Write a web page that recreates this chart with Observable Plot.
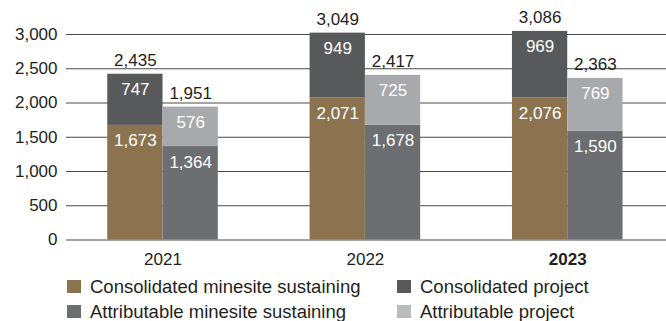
<!DOCTYPE html>
<html><head><meta charset="utf-8">
<script src="https://cdn.jsdelivr.net/npm/d3@7"></script>
<script src="https://cdn.jsdelivr.net/npm/@observablehq/plot@0.6"></script>
<style>
body{margin:0;background:#fff;font-family:"Liberation Sans",Arial,sans-serif;color:#231f20;}
#chart{position:relative;width:666px;height:321px;}
#chart svg{position:absolute;left:0;top:0;}
.item{position:absolute;display:flex;align-items:center;height:25px;font-size:18.5px;white-space:nowrap;}
.sw{width:14px;height:13px;margin-right:9px;flex:none;}
</style></head><body><div id="chart"></div>
<script>
const years = ["2021", "2022", "2023"];
const consolidatedSustaining = [1673, 2071, 2076];
const consolidatedProject = [747, 949, 969];
const consolidatedTotal = [2435, 3049, 3086];
const attributableSustaining = [1364, 1678, 1590];
const attributableProject = [576, 725, 769];
const attributableTotal = [1951, 2417, 2363];
const yTicks = [0, 500, 1000, 1500, 2000, 2500, 3000];
const seriesNames = ["Consolidated minesite sustaining", "Consolidated project", "Attributable minesite sustaining", "Attributable project"];
const colors = ["#8b7350", "#58595b", "#6d6e71", "#a7a9ac"];
const legendColors = ["#8b7350", "#58595b", "#6d6e71", "#b9bbbe"];

const W = 0.2732; // bar width in year units
const segments = [];
const totals = [];
years.forEach((y, i) => {
  const groups = [
    {off: -W, sus: consolidatedSustaining[i], proj: consolidatedProject[i], tot: consolidatedTotal[i], s: 0},
    {off: 0, sus: attributableSustaining[i], proj: attributableProject[i], tot: attributableTotal[i], s: 2}
  ];
  for (const g of groups) {
    const x1 = i + g.off, x2 = x1 + W;
    segments.push({x1, x2, y1: 0, y2: g.sus, v: g.sus, series: seriesNames[g.s]});
    segments.push({x1, x2, y1: g.sus, y2: g.sus + g.proj, v: g.proj, series: seriesNames[g.s + 1]});
    totals.push({x: (x1 + x2) / 2, y: g.sus + g.proj, v: g.tot});
  }
});
const fmt = d3.format(",");

const plot = Plot.plot({
  width: 666, height: 270,
  marginLeft: 66, marginRight: 0, marginTop: 34, marginBottom: 30.5,
  style: {fontFamily: "'Liberation Sans', Arial, sans-serif", fontSize: "17px", color: "#231f20", background: "transparent"},
  x: {type: "linear", domain: [-0.477, 2.488], axis: null},
  y: {domain: [0, 3000], axis: null},
  color: {domain: seriesNames, range: colors},
  marks: [
    Plot.ruleY(yTicks, {stroke: "#4a4a4a", strokeWidth: 1}),
    Plot.rect(segments, {x1: "x1", x2: "x2", y1: "y1", y2: "y2", fill: "series"}),
    Plot.text(segments, {x: d => (d.x1 + d.x2) / 2, y: "y2", text: d => fmt(d.v), dy: 15.5, fill: "white", fontSize: 17}),
    Plot.text(totals, {x: "x", y: "y", text: d => fmt(d.v), dy: -14, fill: "#231f20", fontSize: 17}),
    Plot.axisY({ticks: yTicks, tickFormat: fmt, tickSize: 0, tickPadding: 9, label: null, fontSize: 17}),
    Plot.axisX({ticks: [0, 1], tickFormat: i => years[i], tickSize: 0, tickPadding: 13, label: null, fontSize: 17}),
    Plot.axisX({ticks: [2], tickFormat: i => years[i], tickSize: 0, tickPadding: 13, label: null, fontSize: 17, fontWeight: "bold"})
  ]
});
const chart = document.getElementById("chart");
chart.appendChild(plot);

const legendPos = [[67, 274], [397, 274], [67, 299], [397, 299]];
seriesNames.forEach((name, k) => {
  const it = document.createElement("div");
  it.className = "item";
  it.style.left = legendPos[k][0] + "px";
  it.style.top = legendPos[k][1] + "px";
  const sw = document.createElement("span");
  sw.className = "sw";
  sw.style.background = legendColors[k];
  const tx = document.createElement("span");
  tx.textContent = name;
  it.appendChild(sw); it.appendChild(tx);
  chart.appendChild(it);
});
</script></body></html>
